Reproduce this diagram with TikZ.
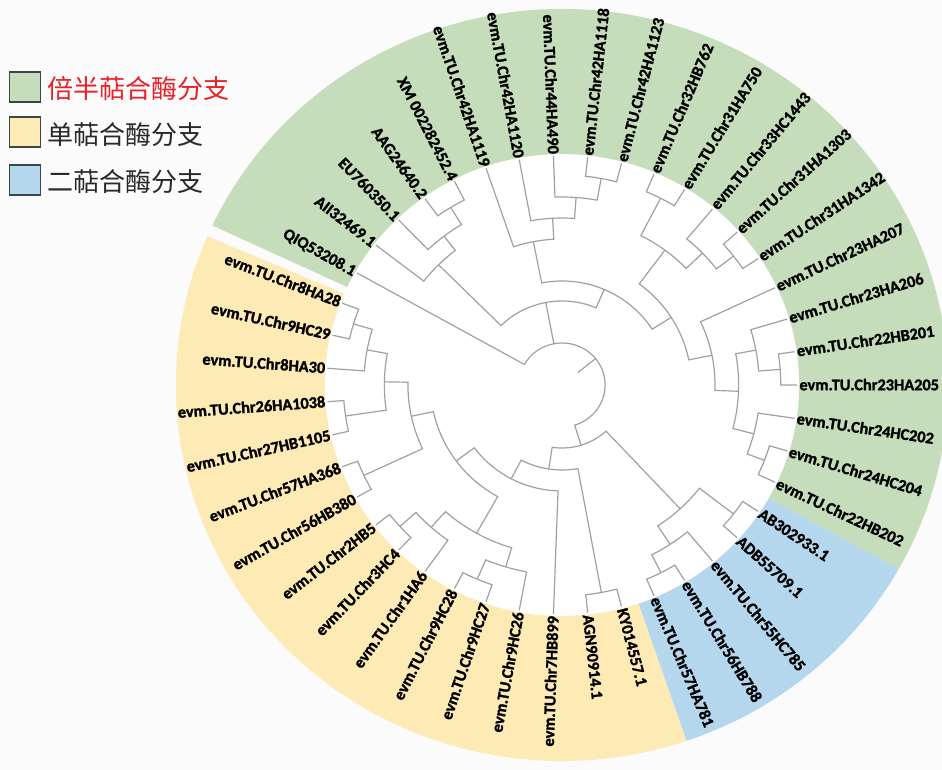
\documentclass[tikz,border=0pt]{standalone}
\usepackage{fontspec}
\setmainfont{Carlito}
\newfontfamily\cjkfont{Noto Sans CJK SC}
\newfontfamily\lblfnt{Carlito}[BoldFeatures={FakeBold=1.6}]
\definecolor{ringgreen}{RGB}{197,221,186}
\definecolor{ringyellow}{RGB}{253,234,180}
\definecolor{ringblue}{RGB}{181,215,238}
\definecolor{treegray}{RGB}{160,160,160}
\definecolor{legred}{RGB}{232,32,40}
\definecolor{legtext}{RGB}{40,40,40}
\definecolor{legborder}{RGB}{60,70,70}
\definecolor{bgcol}{RGB}{251,251,251}
\tikzset{
  branch/.style={draw=treegray, line width=1.2pt, line join=miter},
  lbl/.style={font=\lblfnt\bfseries\fontsize{16.3}{16.3}\selectfont, inner sep=0pt, text height=10.5pt, text depth=0pt},
  legbox/.style={draw=legborder, line width=1.5pt, minimum width=31pt, minimum height=30pt, inner sep=0pt},
  legtxt/.style={font=\cjkfont\fontsize{26}{26}\selectfont, inner sep=0pt, anchor=west}
}
\newcommand{\tbranch}[5]{\draw[branch] (#2:#3pt) -- (#2:#1pt) arc[start angle=#2, end angle=#4, radius=#1pt] -- (#4:#5pt);}
\newcommand{\ringsector}[3]{\fill[#1] (#2:231pt) arc[start angle=#2, end angle=#3, radius=231pt] -- (#3:376pt) arc[start angle=#3, end angle=#2, radius=376pt] -- cycle;}
\begin{document}
\begin{tikzpicture}
\useasboundingbox (0,0) rectangle (942pt,770pt);
\clip (0,0) rectangle (942pt,770pt);
\fill[bgcol] (0,0) rectangle (942pt,770pt);
% legend
\node[legbox, fill=ringgreen] (k1) at (25pt,683pt) {};
\node[legbox, fill=ringyellow] (k2) at (25pt,638pt) {};
\node[legbox, fill=ringblue] (k3) at (25pt,590pt) {};
\node[legtxt, text=legred] (t1) at (47pt,681pt) {倍半萜合酶分支};
\node[legtxt, text=legtext] (t2) at (47pt,635pt) {单萜合酶分支};
\node[legtxt, text=legtext] (t3) at (47pt,588.5pt) {二萜合酶分支};
\begin{scope}[shift={(562pt,385pt)}, xscale=1.027]
\fill[white] (0,0) circle[radius=231pt];
\ringsector{ringgreen}{-29.3}{154.9}
\ringsector{ringblue}{-71.2}{-29.3}
\ringsector{ringyellow}{-203.3}{-71.2}
% tree: green clade
\tbranch{208}{125.58}{229}{117.21}{229}
\tbranch{188}{133.95}{229}{121.40}{208}
\tbranch{170}{142.33}{229}{127.67}{188}
\tbranch{210}{83.72}{229}{75.35}{229}
\tbranch{188}{92.09}{229}{79.53}{210}
\tbranch{167}{100.47}{229}{85.81}{188}
\tbranch{146}{108.84}{229}{93.14}{167}
\tbranch{210}{66.98}{229}{58.60}{229}
\tbranch{211}{41.86}{229}{33.49}{229}
\tbranch{190}{50.23}{229}{37.67}{211}
\tbranch{168}{62.79}{210}{43.95}{190}
\tbranch{213}{8.37}{229}{0}{229}
\tbranch{192}{16.74}{229}{4.19}{213}
\tbranch{211}{-16.74}{229}{-25.12}{229}
\tbranch{193}{-8.37}{229}{-20.93}{211}
\tbranch{172}{10.46}{192}{-14.65}{193}
\tbranch{149}{25.12}{229}{-2.09}{172}
\tbranch{126}{53.37}{168}{11.51}{149}
\tbranch{104}{100.99}{146}{32.44}{126}
\tbranch{84}{135.00}{170}{66.72}{104}
% blue clade
\tbranch{211}{-33.49}{229}{-41.86}{229}
\tbranch{211}{-58.60}{229}{-66.98}{229}
\tbranch{191}{-50.23}{229}{-62.79}{211}
\tbranch{169}{-37.67}{211}{-56.51}{191}
% yellow clade
\tbranch{211}{-75.35}{229}{-83.72}{229}
\tbranch{211}{-108.84}{229}{-117.21}{229}
\tbranch{190}{-100.47}{229}{-113.02}{211}
\tbranch{212}{-133.95}{229}{-142.33}{229}
\tbranch{191}{-125.58}{229}{-138.14}{212}
\tbranch{170}{-106.75}{190}{-131.86}{191}
\tbranch{213}{-150.70}{229}{-159.07}{229}
\tbranch{213}{-167.44}{229}{-175.81}{229}
\tbranch{212}{-192.56}{229}{-200.93}{229}
\tbranch{193}{-184.19}{229}{-196.75}{212}
\tbranch{173}{-171.63}{213}{-190.47}{193}
\tbranch{150}{-154.88}{213}{-181.05}{173}
\tbranch{128}{-119.30}{170}{-167.97}{150}
\tbranch{106}{-92.09}{229}{-143.63}{128}
\tbranch{85}{-79.53}{211}{-117.86}{106}
\tbranch{63}{-47.09}{169}{-98.70}{85}
% root
\draw[branch] (150.70:229pt) -- (150.70:42pt) arc[start angle=150.70, end angle=-72.89, radius=42pt] -- (-72.89:63pt);
\draw[branch] (100.86:42pt) -- (100.86:84pt);
\draw[branch] (38.9:42pt) -- (38.9:20pt);
% labels
\foreach \lname [count=\i] in {QIQ53208.1, AII32469.1, EU760350.1, AAG24640.2, XM 002282452.4, evm.TU.Chr42HA1119, evm.TU.Chr42HA1120, evm.TU.Chr44HA490, evm.TU.Chr42HA1118, evm.TU.Chr42HA1123, evm.TU.Chr32HB762, evm.TU.Chr31HA750, evm.TU.Chr33HC1443, evm.TU.Chr31HA1303, evm.TU.Chr31HA1342, evm.TU.Chr23HA207, evm.TU.Chr23HA206, evm.TU.Chr22HB201, evm.TU.Chr23HA205, evm.TU.Chr24HC202, evm.TU.Chr24HC204, evm.TU.Chr22HB202, AB302933.1, ADB55709.1, evm.TU.Chr55HC785, evm.TU.Chr56HB788, evm.TU.Chr57HA781, KY014557.1, AGN90914.1, evm.TU.Chr7HB899, evm.TU.Chr9HC26, evm.TU.Chr9HC27, evm.TU.Chr9HC28, evm.TU.Chr1HA6, evm.TU.Chr3HC4, evm.TU.Chr2HB5, evm.TU.Chr56HB380, evm.TU.Chr57HA368, evm.TU.Chr27HB1105, evm.TU.Chr26HA1038, evm.TU.Chr8HA30, evm.TU.Chr9HC29, evm.TU.Chr8HA28} {
  \pgfmathsetmacro\ang{(19-\i)*360/43}
  \pgfmathtruncatemacro\rside{cos(\ang)>=0 ? 1 : 0}
  \ifnum\rside=1
    \node[lbl, anchor=west, rotate=\ang] (L\i) at (\ang:231pt) {\lname};
  \else
    \pgfmathsetmacro\angb{\ang+180}
    \node[lbl, anchor=east, rotate=\angb] (L\i) at (\ang:231pt) {\lname};
  \fi
}
\end{scope}
\end{tikzpicture}
\end{document}
